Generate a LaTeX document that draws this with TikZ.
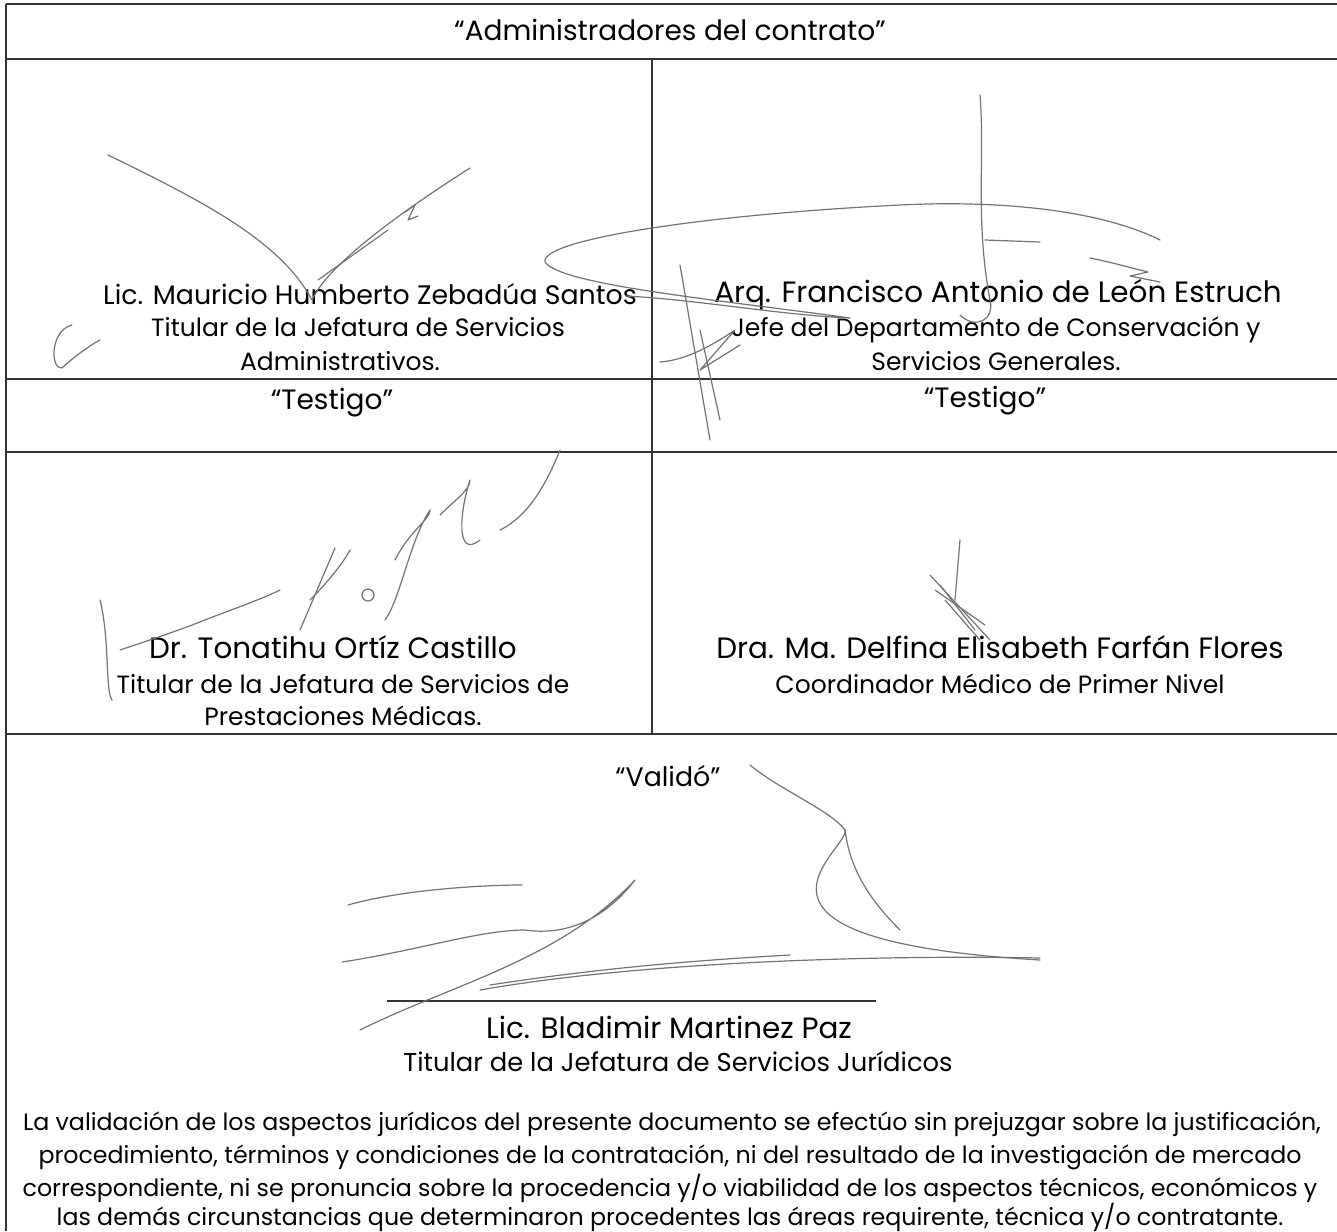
\documentclass[tikz,border=0pt]{standalone}
\usepackage{fontspec}
\setmainfont{Poppins}
\begin{document}
\begin{tikzpicture}[x=0.5pt,y=-0.5pt,
  rule/.style={line width=1.1pt,black!80},
  nmtxt/.style={font=\fontsize{14.7}{16}\selectfont,inner sep=0pt,anchor=base},
  roletxt/.style={font=\fontsize{12.5}{14}\selectfont,inner sep=0pt,anchor=base},
  headtxt/.style={font=\fontsize{14}{16}\selectfont,inner sep=0pt,anchor=base},
  paratxt/.style={font=\fontsize{11.85}{14}\selectfont,inner sep=0pt,anchor=base},
  sig/.style={black!55,line width=0.6pt,line cap=round,line join=round}]
\useasboundingbox (0,0) rectangle (1337,1231);
\fill[white] (0,0) rectangle (1337,1231);
% table rules
\coordinate (tl) at (6,4);
\coordinate (tr) at (1337,4);
\coordinate (bl) at (6,1231);
\draw[rule] (tl) -- (tr);
\draw[rule] (tl) -- (bl);
\draw[rule] (6,59) -- (1337,59);
\draw[rule] (6,379) -- (1337,379);
\draw[rule] (6,452) -- (1337,452);
\draw[rule] (6,734) -- (1337,734);
\draw[rule] (652,59) -- (652,734);
\draw[rule] (387,1001) -- (876,1001);
% texts
\node[headtxt] (h1) at (670,40) {“Administradores del contrato”};
\node[nmtxt,font=\fontsize{13.4}{16}\selectfont] (n1) at (370,304) {Lic. Mauricio Humberto Zebadúa Santos};
\node[roletxt] (r1a) at (358,336) {Titular de la Jefatura de Servicios};
\node[roletxt] (r1b) at (340,370) {Administrativos.};
\node[nmtxt] (n2) at (998,302) {Arq. Francisco Antonio de León Estruch};
\node[roletxt] (r2a) at (996,336) {Jefe del Departamento de Conservación y};
\node[roletxt] (r2b) at (996,370) {Servicios Generales.};
\node[headtxt] (t1) at (332,409) {“Testigo”};
\node[headtxt] (t2) at (985,407) {“Testigo”};
\node[nmtxt] (n3) at (333,658) {Dr. Tonatihu Ortíz Castillo};
\node[roletxt] (r3a) at (343,693) {Titular de la Jefatura de Servicios de};
\node[roletxt] (r3b) at (343,725) {Prestaciones Médicas.};
\node[nmtxt] (n4) at (1000,658) {Dra. Ma. Delfina Elisabeth Farfán Flores};
\node[roletxt] (r4a) at (1000,693) {Coordinador Médico de Primer Nivel};
\node[headtxt,font=\fontsize{13.4}{16}\selectfont] (v) at (668,786) {“Validó”};
\node[nmtxt] (n5) at (669,1038) {Lic. Bladimir Martinez Paz};
\node[roletxt,font=\fontsize{12.9}{14}\selectfont] (r5) at (678,1071) {Titular de la Jefatura de Servicios Jurídicos};
\node[paratxt] (p1) at (672,1130) {La validación de los aspectos jurídicos del presente documento se efectúo sin prejuzgar sobre la justificación,};
\node[paratxt] (p2) at (670,1163) {procedimiento, términos y condiciones de la contratación, ni del resultado de la investigación de mercado};
\node[paratxt] (p3) at (670,1196) {correspondiente, ni se pronuncia sobre la procedencia y/o viabilidad de los aspectos técnicos, económicos y};
\node[paratxt] (p4) at (670,1225) {las demás circunstancias que determinaron procedentes las áreas requirente, técnica y/o contratante.};
% signatures (approximate strokes)
\draw[sig] (108,155) .. controls (200,200) and (280,240) .. (312,300) .. controls (330,260) and (420,200) .. (470,168);
\draw[sig] (318,280) -- (388,230);
\draw[sig] (405,212) -- (415,205) -- (408,220) -- (418,216);
\draw[sig] (72,325) .. controls (50,330) and (50,370) .. (62,368) .. controls (70,360) and (90,345) .. (100,340);
\draw[sig] (626,296) .. controls (700,300) and (780,315) .. (850,318) .. controls (720,300) and (560,285) .. (545,262) .. controls (540,240) and (700,215) .. (900,205) .. controls (1000,200) and (1100,210) .. (1160,240);
\draw[sig] (980,95) .. controls (985,160) and (975,220) .. (990,300) .. controls (995,320) and (975,330) .. (960,315);
\draw[sig] (985,240) -- (1040,242);
\draw[sig] (1090,258) .. controls (1110,262) and (1120,265) .. (1148,272) -- (1130,276) -- (1160,282);
\draw[sig] (680,265) -- (710,440);
\draw[sig] (660,362) .. controls (690,360) and (720,340) .. (735,330) -- (700,370) -- (740,345);
\draw[sig] (700,330) -- (720,420);
\draw[sig] (100,600) .. controls (110,640) and (105,690) .. (112,700);
\draw[sig] (120,650) .. controls (150,640) and (180,630) .. (205,620) .. controls (230,610) and (260,600) .. (280,590);
\draw[sig] (335,548) -- (300,630);
\draw[sig] (310,600) .. controls (330,580) and (345,560) .. (350,550);
\draw[sig] (368,595) circle (6);
\draw[sig] (395,560) .. controls (410,530) and (430,520) .. (430,510) .. controls (410,540) and (400,600) .. (385,620);
\draw[sig] (440,515) .. controls (455,500) and (470,490) .. (470,480) .. controls (460,510) and (455,560) .. (480,540);
\draw[sig] (500,530) .. controls (520,520) and (540,500) .. (560,450);
\draw[sig] (960,540) -- (955,600);
\draw[sig] (930,575) -- (990,640);
\draw[sig] (935,590) -- (985,625);
\draw[sig] (945,600) -- (980,640);
\draw[sig] (940,585) -- (975,630);
\draw[sig] (348,905) .. controls (400,890) and (480,885) .. (522,885);
\draw[sig] (342,962) .. controls (420,950) and (480,930) .. (525,930) .. controls (560,935) and (600,925) .. (635,880) .. controls (560,960) and (450,985) .. (360,1030);
\draw[sig] (490,985) .. controls (600,968) and (700,960) .. (790,955);
\draw[sig] (480,990) .. controls (650,960) and (900,955) .. (1040,958);
\draw[sig] (750,765) .. controls (780,790) and (830,810) .. (845,830) .. controls (850,850) and (700,940) .. (1040,960);
\draw[sig] (845,830) .. controls (850,870) and (870,900) .. (900,930);
\end{tikzpicture}
\end{document}
